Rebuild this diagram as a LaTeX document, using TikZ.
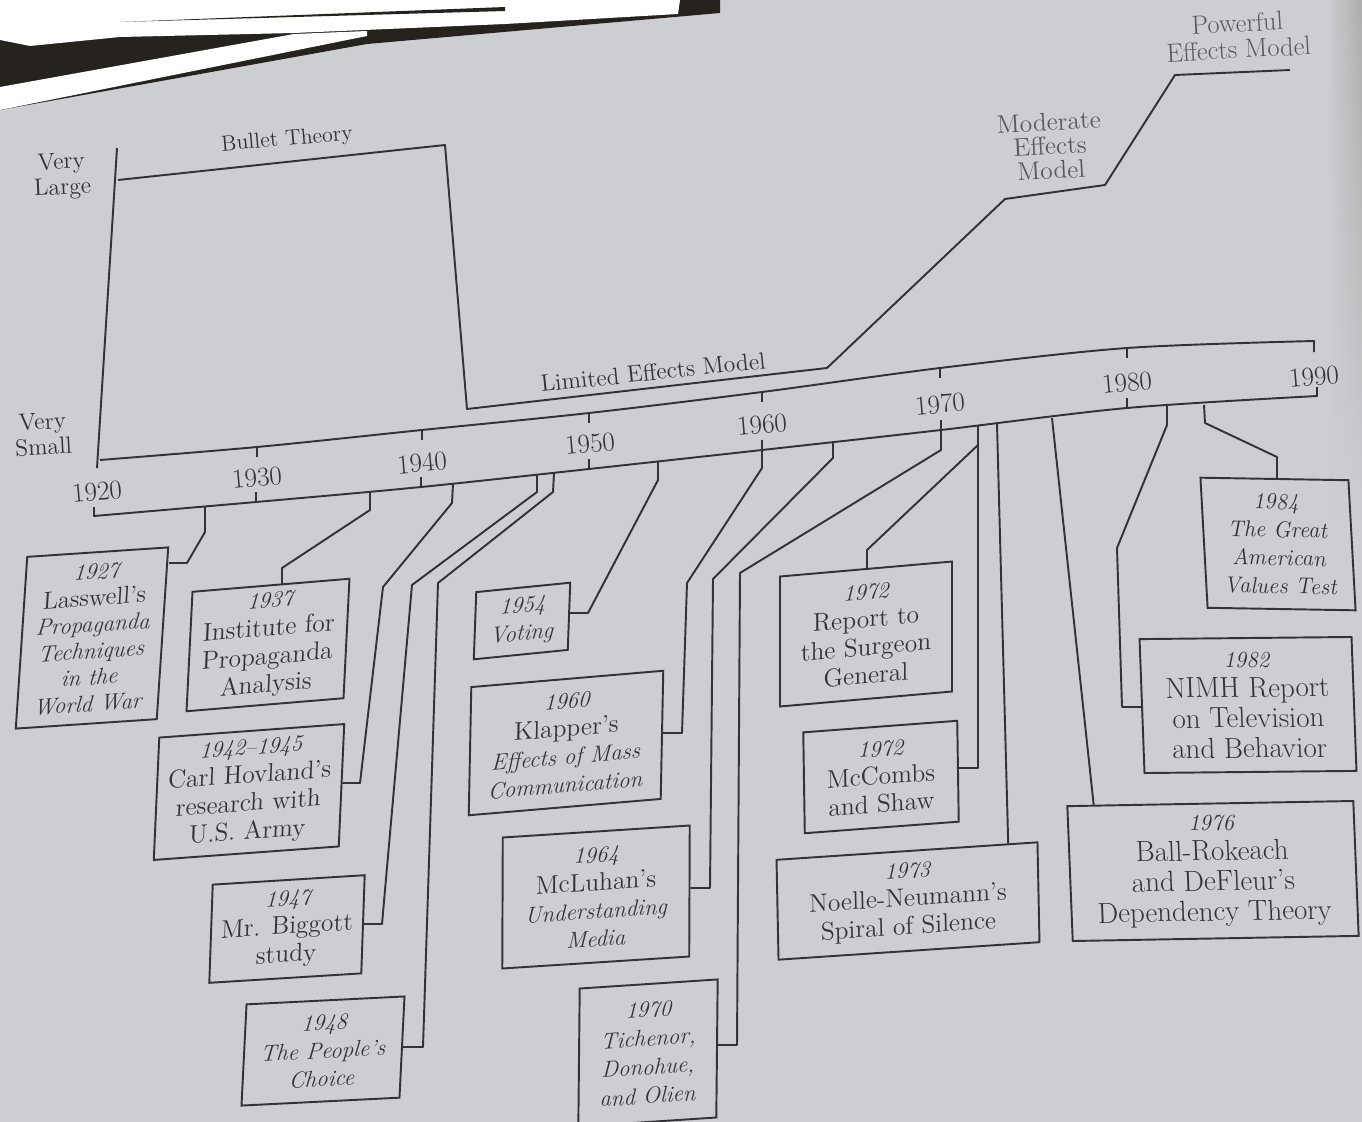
\documentclass[tikz,border=0pt]{standalone}
\usetikzlibrary{calc}
\usetikzlibrary{fadings}

\definecolor{paper}{RGB}{205,206,210}
\definecolor{ink}{RGB}{50,50,55}
\definecolor{fade}{RGB}{88,88,94}
\definecolor{dark}{RGB}{38,34,30}
\newcommand{\ital}[1]{{\fontsize{13}{15}\selectfont\itshape #1}}
\tikzset{tilt/.style 2 args={yslant=#1, xslant=#2}}

\begin{document}
\begin{tikzpicture}[
  x=0.02cm,
  y=-0.02cm,
  every node/.style={text=ink},
  link/.style={draw=ink, line width=1.1pt, line join=round},
  evt/.style={draw=ink, line width=1.1pt, align=center, inner sep=0pt,
    font=\fontsize{14.5}{16}\selectfont},
  lab/.style={align=center, inner sep=0pt, font=\fontsize{13.5}{14.5}\selectfont},
  yr/.style={inner sep=0pt, rotate=5, font=\fontsize{15.5}{16}\selectfont}
]

\useasboundingbox (0,0) rectangle (1362,1122);
\fill[paper] (0,0) rectangle (1362,1122);
\shade[left color=paper, right color=black!32, path fading=south] (1328,0) rectangle (1362,520);
% photo corner
\fill[dark] (0,0) -- (720,0) -- (720,13) -- (367,44) -- (0,110) -- cycle;
\fill[white] (0,87) -- (294,34) -- (367,31) -- (367,36) -- (0,110) -- cycle;
\fill[white] (0,0) -- (680,0) -- (678,14) -- (505,24) -- (294,33) -- (120,37)
  -- (30,46) -- (0,40) -- cycle;
\fill[dark] (120,22) -- (505,7) -- (505,11) -- (260,18) -- cycle;

% effects curve
\node[lab, rotate=3] (vlarge) at (62,176) {Very\\Large};
\node[lab, rotate=3] (vsmall) at (43,434) {Very\\Small};
\draw[link] (117,148) -- (97,468);
\draw[link] (118,180) -- (445,145) -- (467,409) -- (827,368) -- (1005,199)
  -- (1105,185) -- (1175,75) -- (1290,70);
\node[lab, rotate=5, font=\fontsize{12.5}{13}\selectfont] (bullet) at (287,140) {Bullet Theory};
\node[lab, rotate=6] (limited) at (653,372) {Limited Effects Model};
\node[lab, rotate=3, text=fade, font=\fontsize{14.5}{13.8}\selectfont] (moderate) at (1050,146) {Moderate\\Effects\\Model};
\node[lab, rotate=3, text=fade, font=\fontsize{15}{15}\selectfont] (powerful) at (1238,36) {Powerful\\Effects Model};

% time bar
\draw[link] plot[smooth, tension=0.5] coordinates {(100,460) (257,447) (422,430)
  (589,413) (762,392) (940,368) (1127,348) (1314,341)} -- (1314,352);
\draw[link] (94,507) -- plot[smooth, tension=0.5] coordinates {(94,516) (256,502)
  (421,487) (589,469) (762,450) (941,430) (1127,408) (1317,396)} -- (1317,387);
\foreach \x/\y in {257/447, 422/430, 589/413, 762/392, 940/368, 1127/348}
  \draw[link] (\x,\y) -- ++(0,10);
\foreach \x/\y in {256/502, 421/487, 589/469, 1127/408}
  \draw[link] (\x,\y) -- ++(0,-10);
\foreach \yrr/\x/\y in {1920/97/492, 1930/257/478, 1940/422/463, 1950/590/444,
  1960/762/425, 1970/940/404, 1980/1127/383, 1990/1314/377}
  \node[yr] (y\yrr) at (\x,\y) {\yrr};

% events
\node[evt, tilt={0.067}{0.067}, minimum width=2.82cm, minimum height=3.42cm,
  font=\fontsize{14}{15}\selectfont] (lass) at (92,638)
  {\ital{1927}\\Lasswell's\\\ital{Propaganda}\\\ital{Techniques}\\\ital{in the}\\\ital{World War}};
\node[evt, tilt={0.083}{0.05}, minimum width=3.14cm, minimum height=2.38cm] (inst) at (268,645)
  {\ital{1937}\\Institute for\\Propaganda\\Analysis};
\node[evt, tilt={0.073}{0.045}, minimum width=3.7cm, minimum height=2.44cm] (hov) at (249,792)
  {\ital{1942--1945}\\Carl Hovland's\\research with\\U.S. Army};
\node[evt, tilt={0.062}{0.035}, minimum width=3.04cm, minimum height=1.96cm] (big) at (287,929)
  {\ital{1947}\\Mr. Biggott\\study};
\node[evt, tilt={0.05}{0.05}, minimum width=3.16cm, minimum height=2.02cm] (peop) at (323,1051)
  {\ital{1948}\\\ital{The People's}\\\ital{Choice}};
\node[evt, tilt={0.1}{0.037}, minimum width=1.88cm, minimum height=1.34cm] (vot) at (522,621)
  {\ital{1954}\\\ital{Voting}};
\node[evt, tilt={0.085}{0.02}, minimum width=3.84cm, minimum height=2.56cm] (klap) at (566,743)
  {\ital{1960}\\Klapper's\\\ital{Effects of Mass}\\\ital{Communication}};
\node[evt, tilt={0.064}{0.004}, minimum width=3.74cm, minimum height=2.62cm] (mcl) at (596,897)
  {\ital{1964}\\McLuhan's\\\ital{Understanding}\\\ital{Media}};
\node[evt, tilt={0.066}{0.01}, minimum width=2.76cm, minimum height=2.76cm,
  font=\fontsize{14.5}{16.4}\selectfont] (tich) at (648,1053)
  {\ital{1970}\\\ital{Tichenor,}\\\ital{Donohue,}\\\ital{and Olien}};
\node[evt, tilt={0.087}{0}, minimum width=3.44cm, minimum height=2.6cm] (surg) at (866,634)
  {\ital{1972}\\Report to\\the Surgeon\\General};
\node[evt, tilt={0.075}{-0.015}, minimum width=3.08cm, minimum height=2.02cm] (mcc) at (881,777)
  {\ital{1972}\\McCombs\\and Shaw};
\node[evt, tilt={0.067}{-0.02}, minimum width=5.22cm, minimum height=2cm] (noel) at (908,901)
  {\ital{1973}\\Noelle-Neumann's\\Spiral of Silence};
\node[evt, tilt={0.018}{-0.04}, minimum width=5.72cm, minimum height=2.7cm,
  font=\fontsize{16.5}{17.2}\selectfont] (ball) at (1213,871)
  {\ital{1976}\\Ball-Rokeach\\and DeFleur's\\Dependency Theory};
\node[evt, tilt={0.01}{-0.037}, minimum width=4.24cm, minimum height=2.68cm,
  font=\fontsize{16.5}{17.2}\selectfont] (nimh) at (1248,705)
  {\ital{1982}\\NIMH Report\\on Television\\and Behavior};
\node[evt, tilt={-0.017}{-0.055}, minimum width=2.96cm, minimum height=2.6cm,
  font=\fontsize{14.5}{16}\selectfont] (grt) at (1278,544)
  {\ital{1984}\\\ital{The Great}\\\ital{American}\\\ital{Values Test}};

% connectors
\draw[link] (205,506) -- (205,532) -- (187,563) coordinate (j27) -- (j27 -| lass.north east);
\draw[link] (370,492) -- (370,510) -- (282,568) coordinate (j37) -- (j37 |- inst.north);
\draw[link] (453,484) -- (452,503) -- (383,587) -- (360,783) coordinate (j42) -- (j42 -| hov.east);
\draw[link] (537,475) -- (537,492) -- (412,585) -- (382,924) coordinate (j47) -- (j47 -| big.east);
\draw[link] (554,473) -- (553,492) -- (438,583) -- (423,1047) coordinate (j48) -- (j48 -| peop.east);
\draw[link] (658,462) -- (658,480) -- (588,613) coordinate (j54) -- (j54 -| vot.east);
\draw[link] (762,440) -- (762,468) -- (687,583) -- (682,733) coordinate (j60) -- (j60 -| klap.east);
\draw[link] (833,442) -- (833,458) -- (713,579) -- (710,888) coordinate (j64) -- (j64 -| mcl.east);
\draw[link] (941,420) -- (941,450) -- (740,573) -- (737,1045) coordinate (j70) -- (j70 -| tich.east);
\draw[link] (978,426) -- (978,768) coordinate (j72) -- (j72 -| mcc.east);
\draw[link] (978,445) -- (867,550) coordinate (k72) -- (k72 |- surg.north);
\draw[link] (997,424) -- ($(noel.north)!0.77!(noel.north east)$);
\draw[link] (1052,418) -- ($(ball.north west)!0.19!(ball.north)$);
\draw[link] (1167,406) -- (1167,425) -- (1117,548) -- (1122,707) coordinate (j82) -- (j82 -| nimh.west);
\draw[link] (1204,405) -- (1205,423) -- (1277,457) coordinate (j84) -- (j84 |- grt.north);

\end{tikzpicture}
\end{document}
